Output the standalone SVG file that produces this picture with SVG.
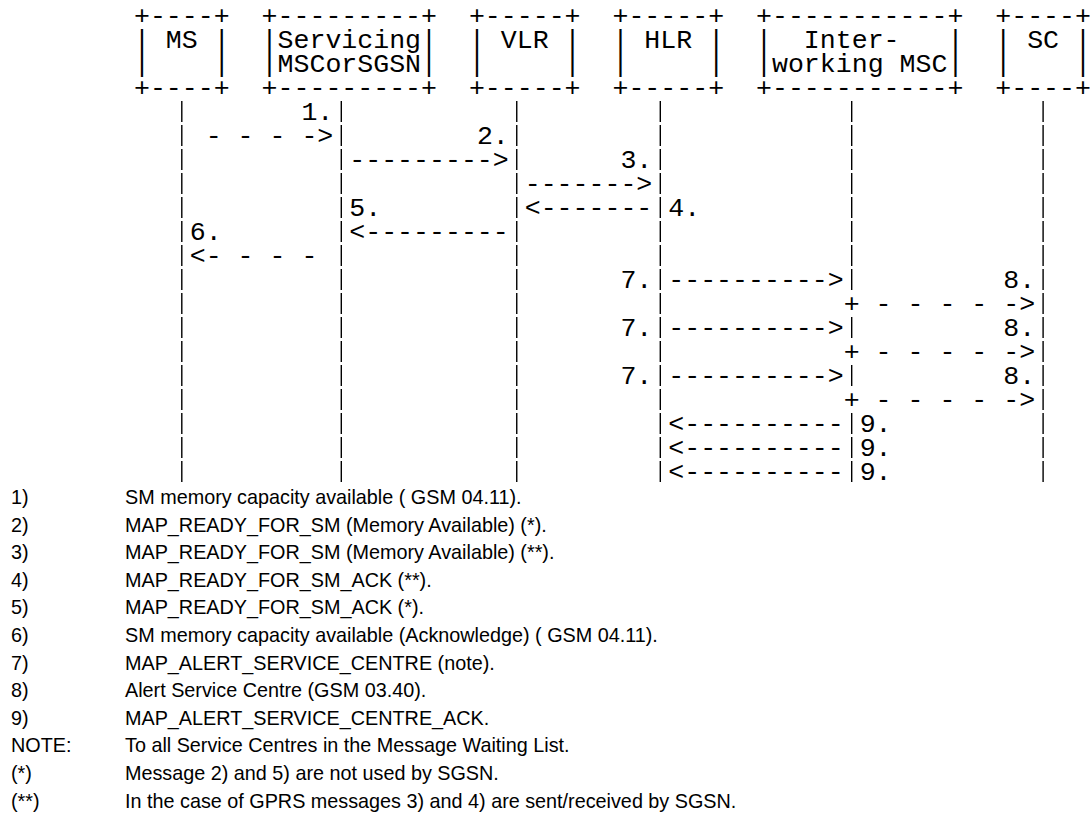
<svg xmlns="http://www.w3.org/2000/svg" width="1090" height="816" viewBox="0 0 1090 816" xml:space="preserve">
<style>
.m{font-family:"Liberation Mono","Courier New",monospace;font-size:26.58px;fill:#000;white-space:pre}
.l{font-family:"Liberation Sans",Arial,sans-serif;font-size:19.8px;fill:#000}
.ll{stroke:#000;stroke-width:1.4;stroke-dasharray:21 3;fill:none}
</style>
<rect width="1090" height="816" fill="#fff"/>
<g id="node-ms">
<text class="m"><tspan x="133.98" y="24">+----+</tspan><tspan x="133.98" y="48">| MS |</tspan><tspan x="133.98" y="72">|    |</tspan><tspan x="133.98" y="96">+----+</tspan></text>
</g>
<g id="node-servicing">
<text class="m"><tspan x="261.58" y="24">+---------+</tspan><tspan x="261.58" y="48">|Servicing|</tspan><tspan x="261.58" y="72">|MSCorSGSN|</tspan><tspan x="261.58" y="96">+---------+</tspan></text>
</g>
<g id="node-vlr">
<text class="m"><tspan x="468.93" y="24">+-----+</tspan><tspan x="468.93" y="48">| VLR |</tspan><tspan x="468.93" y="72">|     |</tspan><tspan x="468.93" y="96">+-----+</tspan></text>
</g>
<g id="node-hlr">
<text class="m"><tspan x="612.48" y="24">+-----+</tspan><tspan x="612.48" y="48">| HLR |</tspan><tspan x="612.48" y="72">|     |</tspan><tspan x="612.48" y="96">+-----+</tspan></text>
</g>
<g id="node-iwmsc">
<text class="m"><tspan x="756.03" y="24">+-----------+</tspan><tspan x="756.03" y="48">|  Inter-   |</tspan><tspan x="756.03" y="72">|working MSC|</tspan><tspan x="756.03" y="96">+-----------+</tspan></text>
</g>
<g id="node-sc">
<text class="m"><tspan x="995.28" y="24">+----+</tspan><tspan x="995.28" y="48">| SC |</tspan><tspan x="995.28" y="72">|    |</tspan><tspan x="995.28" y="96">+----+</tspan></text>
</g>
<g id="connectors">
<line class="ll" x1="181.8" y1="101" x2="181.8" y2="482"/>
<line class="ll" x1="341.3" y1="101" x2="341.3" y2="482"/>
<line class="ll" x1="516.75" y1="101" x2="516.75" y2="482"/>
<line class="ll" x1="660.3" y1="101" x2="660.3" y2="482"/>
<line class="ll" x1="851.7" y1="101" x2="851.7" y2="290"/>
<line class="ll" x1="851.7" y1="317" x2="851.7" y2="338"/>
<line class="ll" x1="851.7" y1="365" x2="851.7" y2="386"/>
<line class="ll" x1="851.7" y1="413" x2="851.7" y2="482"/>
<line class="ll" x1="1043.1" y1="101" x2="1043.1" y2="482"/>
<text class="m" x="205.73" y="144">- - - -&gt;</text>
<text class="m" x="349.28" y="168">---------&gt;</text>
<text class="m" x="524.73" y="192">-------&gt;</text>
<text class="m" x="524.73" y="216">&lt;-------</text>
<text class="m" x="349.28" y="240">&lt;---------</text>
<text class="m" x="189.78" y="264">&lt;- - - -</text>
<text class="m" x="668.28" y="288">----------&gt;</text>
<text class="m" x="843.73" y="312">+ - - - - -&gt;</text>
<text class="m" x="668.28" y="336">----------&gt;</text>
<text class="m" x="843.73" y="360">+ - - - - -&gt;</text>
<text class="m" x="668.28" y="384">----------&gt;</text>
<text class="m" x="843.73" y="408">+ - - - - -&gt;</text>
<text class="m" x="668.28" y="432">&lt;----------</text>
<text class="m" x="668.28" y="456">&lt;----------</text>
<text class="m" x="668.28" y="480">&lt;----------</text>
</g>
<g id="labels">
<text class="m" x="301.43" y="120">1.</text>
<text class="m" x="476.88" y="144">2.</text>
<text class="m" x="620.43" y="168">3.</text>
<text class="m" x="668.28" y="216">4.</text>
<text class="m" x="349.28" y="216">5.</text>
<text class="m" x="189.78" y="240">6.</text>
<text class="m" x="620.43" y="288">7.</text>
<text class="m" x="1003.23" y="288">8.</text>
<text class="m" x="620.43" y="336">7.</text>
<text class="m" x="1003.23" y="336">8.</text>
<text class="m" x="620.43" y="384">7.</text>
<text class="m" x="1003.23" y="384">8.</text>
<text class="m" x="859.68" y="432">9.</text>
<text class="m" x="859.68" y="456">9.</text>
<text class="m" x="859.68" y="480">9.</text>
</g>
<g id="legend">
<text class="l" x="11" y="504">1)</text><text class="l" x="125" y="504">SM memory capacity available ( GSM 04.11).</text>
<text class="l" x="11" y="531.6">2)</text><text class="l" x="125" y="531.6">MAP_READY_FOR_SM (Memory Available) (*).</text>
<text class="l" x="11" y="559.2">3)</text><text class="l" x="125" y="559.2">MAP_READY_FOR_SM (Memory Available) (**).</text>
<text class="l" x="11" y="586.8">4)</text><text class="l" x="125" y="586.8">MAP_READY_FOR_SM_ACK (**).</text>
<text class="l" x="11" y="614.4">5)</text><text class="l" x="125" y="614.4">MAP_READY_FOR_SM_ACK (*).</text>
<text class="l" x="11" y="642">6)</text><text class="l" x="125" y="642">SM memory capacity available (Acknowledge) ( GSM 04.11).</text>
<text class="l" x="11" y="669.6">7)</text><text class="l" x="125" y="669.6">MAP_ALERT_SERVICE_CENTRE (note).</text>
<text class="l" x="11" y="697.2">8)</text><text class="l" x="125" y="697.2">Alert Service Centre (GSM 03.40).</text>
<text class="l" x="11" y="724.8">9)</text><text class="l" x="125" y="724.8">MAP_ALERT_SERVICE_CENTRE_ACK.</text>
<text class="l" x="11" y="752.4">NOTE:</text><text class="l" x="125" y="752.4">To all Service Centres in the Message Waiting List.</text>
<text class="l" x="11" y="780">(*)</text><text class="l" x="125" y="780">Message 2) and 5) are not used by SGSN.</text>
<text class="l" x="11" y="807.6">(**)</text><text class="l" x="125" y="807.6">In the case of GPRS messages 3) and 4) are sent/received by SGSN.</text>
</g>
</svg>
